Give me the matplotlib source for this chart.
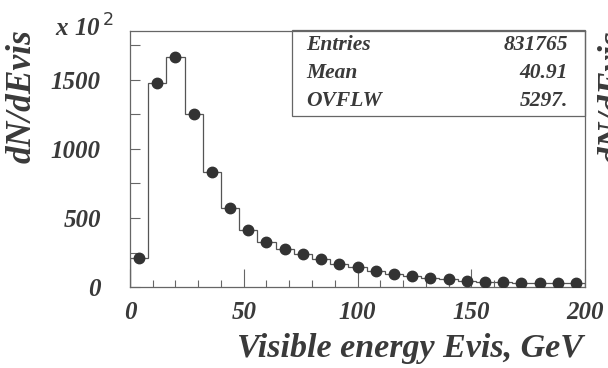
import numpy as np
import matplotlib
matplotlib.use("Agg")
import matplotlib.pyplot as plt
from matplotlib.ticker import MultipleLocator

# bin edges (GeV) and contents (units of 10^2)
edges = np.arange(0, 201, 8)
counts = [215, 1475, 1665, 1248, 833, 570, 413, 329, 276, 240,
          204, 168, 145, 118, 96, 84, 70, 58, 48, 41,
          37, 35, 33, 32, 30]
stat_names = ["Entries", "Mean", "OVFLW"]
stat_values = ["831765", "40.91", "5297."]

TXT = "#3a3a3a"
FONT = dict(family="Liberation Serif", weight="bold", style="italic", color=TXT)

fig = plt.figure(figsize=(6.08, 3.68), dpi=100)
ax = fig.add_axes([0.2138, 0.219, 0.7484, 0.6967])

centers = (edges[:-1] + edges[1:]) / 2
ax.stairs(counts, edges, baseline=0, color="#555555", linewidth=0.9)
ax.plot(centers, counts, "o", color="#333333", markersize=7.5, zorder=3)

ax.set_xlim(0, 200)
ax.set_ylim(0, 1850)
for s in ax.spines.values():
    s.set_color("#666666")
    s.set_linewidth(0.9)

ax.xaxis.set_major_locator(MultipleLocator(50))
ax.xaxis.set_minor_locator(MultipleLocator(10))
ax.yaxis.set_major_locator(MultipleLocator(500))
ax.yaxis.set_minor_locator(MultipleLocator(250))
ax.tick_params(axis="both", which="both", direction="in", color="#666666", width=0.8)
ax.tick_params(axis="x", which="major", length=13, pad=10)
ax.tick_params(axis="x", which="minor", length=5)
ax.tick_params(axis="y", which="both", length=7, pad=21)
ax.tick_params(top=False, right=False)
for lab in ax.get_xticklabels() + ax.get_yticklabels():
    lab.set_fontfamily("Liberation Serif")
    lab.set_fontweight("bold")
    lab.set_fontstyle("italic")
    lab.set_fontsize(18)
    lab.set_color(TXT)

# stats box
box = plt.Rectangle((292 / 608, 1 - 116 / 368), (585 - 292) / 608, (116 - 30) / 368,
                    transform=fig.transFigure, fill=False, edgecolor="#666666", linewidth=0.9)
fig.add_artist(box)
for i, (n, v) in enumerate(zip(stat_names, stat_values)):
    y = 1 - (45 + 28 * i) / 368
    fig.text(306 / 608, y, n, fontsize=15.5, ha="left", va="center", **FONT)
    fig.text(568 / 608, y, v, fontsize=15.5, ha="right", va="center", **FONT)

fig.text(55 / 608, 1 - 28 / 368, r"x 10$^{\,2}$", fontsize=18, ha="left", va="center", **FONT)
fig.text(22 / 608, 1 - 96 / 368, "dN/dEvis", fontsize=25.5, rotation=90,
         ha="center", va="center", **FONT)
fig.text(583 / 608, 1 - 348 / 368, "Visible energy Evis, GeV", fontsize=24.5,
         ha="right", va="center", **FONT)
# label of neighbouring panel, cut off at the edge
fig.text(598 / 608, 1 - 30 / 368, "dN/dEvis", fontsize=25.5, rotation=90,
         ha="left", va="top", **FONT)

fig.savefig("out.png", dpi=100)
